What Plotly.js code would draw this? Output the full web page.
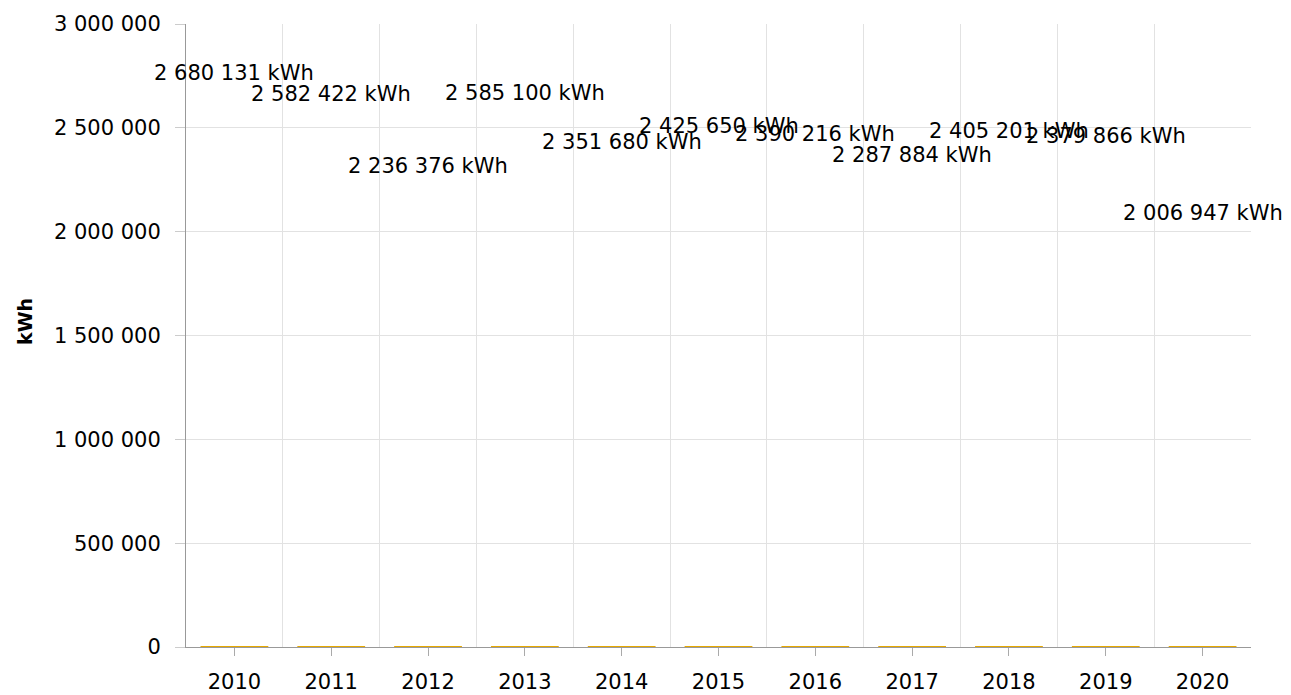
<!DOCTYPE html>
<html><head><meta charset="utf-8">
<script src="https://cdn.plot.ly/plotly-3.0.1.min.js"></script>
<style>html,body{margin:0;padding:0;background:#fff}#chart{width:1291px;height:695px}</style>
</head><body><div id="chart"></div>
<script>
const years = [2010, 2011, 2012, 2013, 2014, 2015, 2016, 2017, 2018, 2019, 2020];
const energyKWh = [2680131, 2582422, 2236376, 2585100, 2351680, 2425650, 2390216, 2287884, 2405201, 2379866, 2006947];
const barValues = [0, 0, 0, 0, 0, 0, 0, 0, 0, 0, 0];
const yTickValues = [0, 500000, 1000000, 1500000, 2000000, 2500000, 3000000];
const unit = 'kWh';

function fmt(v) { return String(v).replace(/\B(?=(\d{3})+(?!\d))/g, ' '); }
const labels = energyKWh.map(v => fmt(v) + ' ' + unit);
const FONT = 'DejaVu Sans, Verdana, sans-serif';

const traces = [
  {
    type: 'bar', x: years, y: barValues, width: 0.7,
    marker: {color: '#E6A800', line: {color: '#E6A800', width: 2}},
    hoverinfo: 'skip', showlegend: false
  },
  {
    type: 'scatter', mode: 'markers', x: years, y: energyKWh,
    marker: {size: 1, opacity: 0},
    cliponaxis: false, hoverinfo: 'skip', showlegend: false
  }
];

const valueAnnotations = years.map((yr, i) => ({
  x: yr, y: energyKWh[i], xref: 'x', yref: 'y',
  text: labels[i], showarrow: false,
  xanchor: 'center', yanchor: 'bottom', yshift: 3,
  font: {family: FONT, size: 21, color: '#000'}
}));

const titleAnnotation = {
  text: '<b>' + unit + '</b>', xref: 'paper', yref: 'paper',
  x: (25 - 186) / 1065, y: (647 - 322) / 623,
  xanchor: 'center', yanchor: 'middle', textangle: -90, showarrow: false,
  font: {family: FONT, size: 19, color: '#000'}
};

const layout = {
  width: 1291, height: 695,
  margin: {l: 186, r: 40, t: 24, b: 48},
  separators: ', ',
  paper_bgcolor: '#fff', plot_bgcolor: '#fff',
  font: {family: FONT, size: 21, color: '#000'},
  showlegend: false,
  annotations: valueAnnotations.concat([titleAnnotation]),
  xaxis: {
    type: 'linear', range: [2009.5, 2020.5],
    tickmode: 'array', tickvals: years, ticktext: years.map(String),
    ticks: 'outside', ticklen: 8, tickcolor: '#aaa', tickwidth: 1,
    ticklabelstandoff: 8,
    showgrid: false, zeroline: false,
    showline: true, linecolor: '#999', linewidth: 1,
    minor: {tickmode: 'linear', tick0: 2009.5, dtick: 1, showgrid: true, gridcolor: '#e2e2e2', gridwidth: 1, ticks: ''},
    tickfont: {family: FONT, size: 21, color: '#000'},
    fixedrange: true
  },
  yaxis: {
    range: [0, 3000000],
    tickmode: 'array', tickvals: yTickValues, ticktext: yTickValues.map(fmt),
    ticks: 'outside', ticklen: 10, tickcolor: '#ccc', tickwidth: 1,
    ticklabelstandoff: 10,
    showgrid: true, gridcolor: '#e2e2e2', gridwidth: 1,
    zeroline: false, showline: true, linecolor: '#999', linewidth: 1,
    tickfont: {family: FONT, size: 21, color: '#000'},
    fixedrange: true
  }
};

Plotly.newPlot('chart', traces, layout, {displayModeBar: false, staticPlot: true});
</script>
</body></html>
